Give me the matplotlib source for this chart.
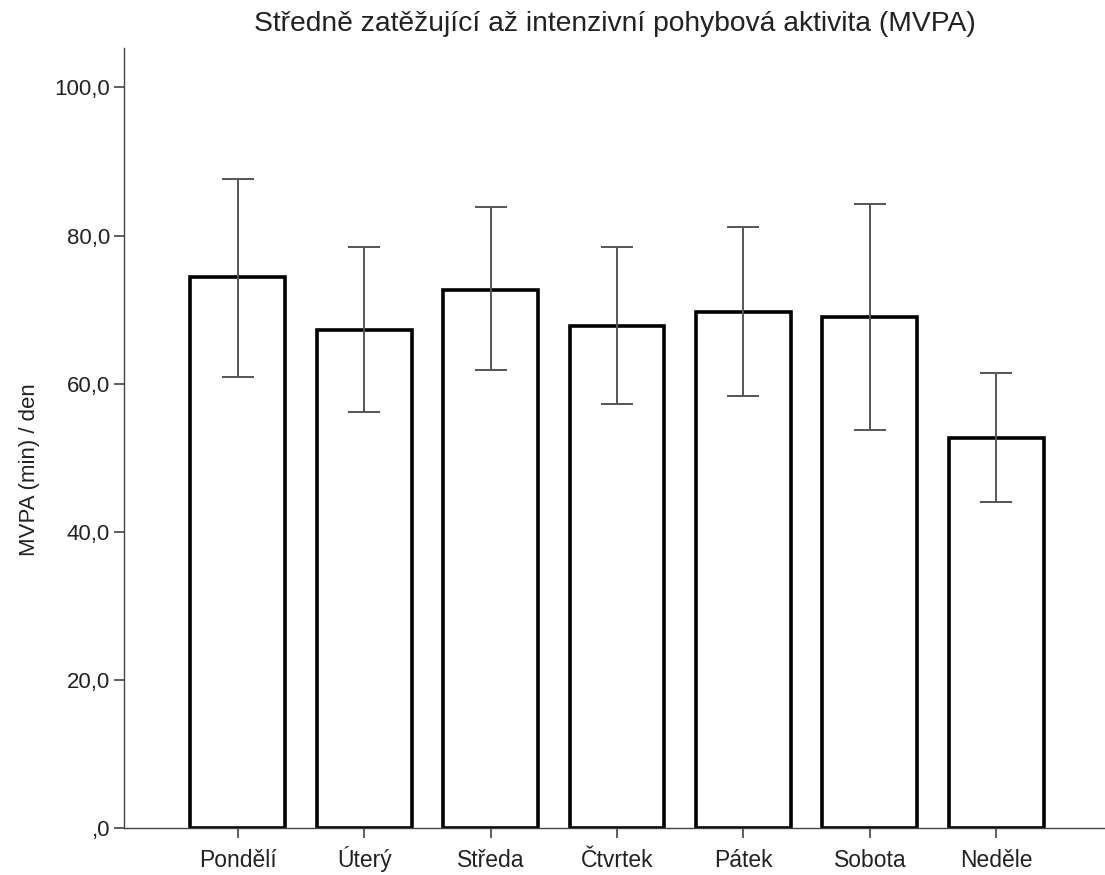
import matplotlib
matplotlib.use("Agg")
import matplotlib.pyplot as plt

# MVPA per day of week (mean and 95% CI)
days = ["Pondělí", "Úterý", "Středa", "Čtvrtek", "Pátek", "Sobota", "Neděle"]
means = [74.4, 67.3, 72.7, 67.8, 69.7, 69.0, 52.6]
ci_low = [60.9, 56.2, 61.8, 57.2, 58.3, 53.7, 44.0]
ci_high = [87.6, 78.4, 83.9, 78.5, 81.1, 84.2, 61.4]
yticks = [0, 20, 40, 60, 80, 100]
ytick_labels = [",0", "20,0", "40,0", "60,0", "80,0", "100,0"]

plt.rcParams["font.family"] = ["Liberation Sans", "DejaVu Sans"]
txt = "#222222"

fig = plt.figure(figsize=(11.05, 8.75), dpi=100)
ax = fig.add_axes([0.1122, 0.0537, 0.8878, 0.8913])

x = list(range(len(days)))
err = [[m - lo for m, lo in zip(means, ci_low)],
       [hi - m for m, hi in zip(means, ci_high)]]

ax.bar(x, means, width=0.75, facecolor="white", edgecolor="black",
       linewidth=2.6, zorder=2)
ax.errorbar(x, means, yerr=err, fmt="none", ecolor="#555555",
            elinewidth=1.4, capsize=11.5, capthick=1.4, zorder=3)

ax.set_xlim(-0.9, 6.86)
ax.set_ylim(0, 105.3)
ax.set_xticks(x)
ax.set_xticklabels(days, fontsize=16.5, color=txt)
for lbl in ax.get_xticklabels():
    lbl.set_verticalalignment("baseline")
ax.set_yticks(yticks)
ax.set_yticklabels(ytick_labels, fontsize=16, color=txt)

for s in ["top", "right"]:
    ax.spines[s].set_visible(False)
for s in ["left", "bottom"]:
    ax.spines[s].set_color("#444444")
    ax.spines[s].set_linewidth(1.0)
ax.tick_params(axis="both", length=7, width=1.2, color="#444444")
ax.tick_params(axis="y", pad=3)
ax.tick_params(axis="x", pad=21)

ax.set_ylabel("MVPA (min) / den", fontsize=16, color=txt)
ax.yaxis.set_label_coords(-0.086, 0.46)
ax.set_title("Středně zatěžující až intenzivní pohybová aktivita (MVPA)",
             fontsize=20.3, color=txt, pad=12)

fig.savefig("out.png", dpi=100)
